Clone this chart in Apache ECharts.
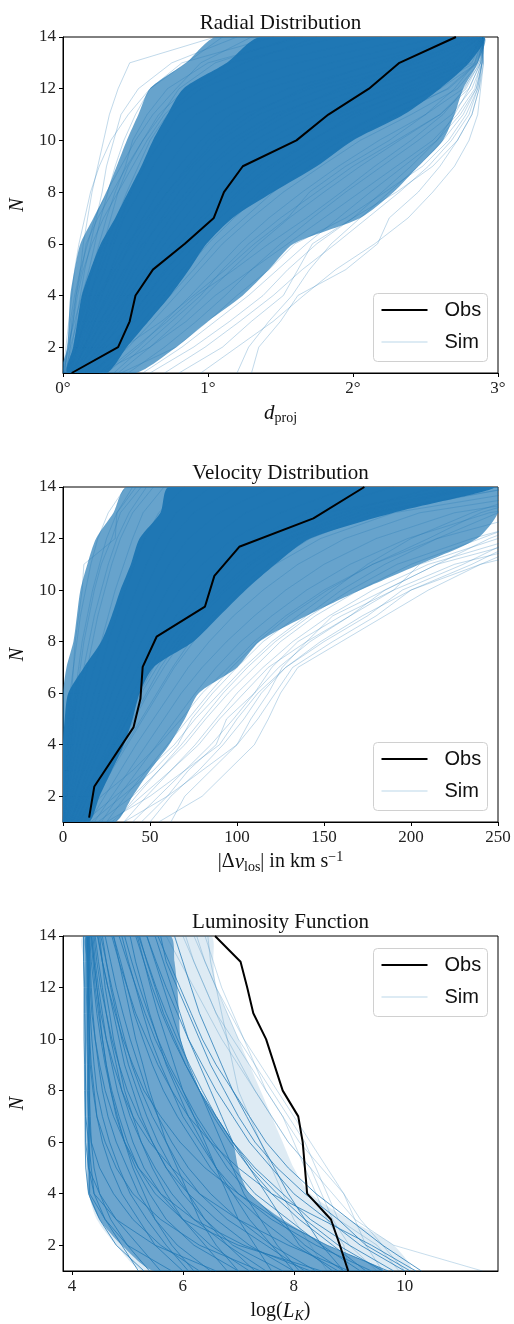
<!DOCTYPE html>
<html><head><meta charset="utf-8">
<script src="https://cdn.jsdelivr.net/npm/echarts@6/dist/echarts.min.js"></script>
<style>html,body{margin:0;padding:0;background:#fff}#c{width:514px;height:1324px}</style>
</head><body><div id="c"></div>
<script>
// ---------- data ----------
const nValues = [1,2,3,4,5,6,7,8,9,10,11,12,13,14];
const yTicks = [2,4,6,8,10,12,14];
const radialTicks = [0,1,2,3];
const velocityTicks = [0,50,100,150,200,250];
const lumTicks = [4,6,8,10];

// observed
const obsRadialX = [0.06,0.38,0.46,0.50,0.62,0.84,1.04,1.11,1.24,1.61,1.83,2.11,2.32,2.71];
const obsVelX = [15,18,40.5,44.5,45.8,53.8,81.6,87,101.3,143.9,173.2];
const obsVelN = [1.17,2.38,4.67,5.78,7.02,8.19,9.36,10.55,11.68,12.78,14.0];
const obsLumX = [8.98,8.83,8.67,8.24,8.20,8.16,8.08,7.80,7.65,7.50,7.27,7.16,7.04,6.58];

// densest envelopes of the simulated curves (x value at each N = 1..14)
const radialCoreL = [0.03,0.07,0.10,0.13,0.19,0.26,0.36,0.45,0.54,0.62,0.72,0.83,1.13,1.36];
const radialCoreR = [0.30,0.44,0.59,0.74,0.87,0.99,1.17,1.45,1.75,2.00,2.35,2.60,2.80,2.90];
const radialHaloL = [0.00,0.03,0.04,0.05,0.08,0.12,0.21,0.30,0.37,0.44,0.52,0.60,0.85,1.06];
const radialHaloR = [0.50,0.78,1.00,1.24,1.42,1.59,2.05,2.28,2.45,2.62,2.70,2.76,2.86,2.90];

const velCoreL = [0,0,0,0,1,3,12,22,28,33,39,44,56,61];
const velCoreR = [15,21,28,35,40,44,52,75,90,105,122,142,190,247];
const velHaloL = [0,0,0,0,0,0,2,6,8,10,14,19,29,37];
const velHaloR = [30,40,50,61,70,78,100,113,140,171,205,238,250,250];

const lumCoreL = [5.5,4.9,4.5,4.3,4.28,4.27,4.27,4.27,4.27,4.27,4.27,4.27,4.27,4.27];
const lumCoreR = [9.6,8.6,7.8,7.2,7.0,6.9,6.6,6.3,6.1,5.96,5.93,5.9,5.85,5.77];
const lumHaloL = [5.3,4.8,4.45,4.3,4.25,4.24,4.22,4.22,4.21,4.21,4.21,4.21,4.21,4.21];
const lumHaloR = [10.1,9.8,9.0,8.3,8.0,7.8,7.6,7.4,7.2,7.0,6.8,6.6,6.55,6.5];

// individual simulated curves (x value at N = 1..14)
const simRadial = [
 [0.01,0.04,0.07,0.09,0.12,0.14,0.17,0.20,0.24,0.28,0.32,0.38,0.46,1.05],
 [0.02,0.06,0.09,0.12,0.15,0.19,0.23,0.27,0.30,0.35,0.40,0.52,0.75,1.20],
 [0.01,0.03,0.08,0.13,0.18,0.22,0.26,0.31,0.36,0.42,0.50,0.60,0.82,1.45],
 [0.03,0.07,0.11,0.16,0.20,0.25,0.30,0.36,0.43,0.48,0.58,0.72,1.00,1.65],
 [0.02,0.05,0.10,0.14,0.21,0.28,0.33,0.38,0.45,0.55,0.66,0.85,1.15,1.90],
 [0.04,0.09,0.15,0.19,0.24,0.30,0.37,0.44,0.52,0.60,0.72,0.95,1.40,2.20],
 [0.01,0.08,0.12,0.18,0.26,0.33,0.40,0.47,0.56,0.68,0.80,1.10,1.62,2.45],
 [0.05,0.10,0.14,0.22,0.29,0.35,0.42,0.53,0.62,0.74,0.92,1.25,1.85,2.60],
 [0.03,0.12,0.20,0.27,0.33,0.40,0.50,0.60,0.72,0.85,1.05,1.40,2.00,2.80],
 [0.06,0.15,0.22,0.30,0.38,0.46,0.55,0.66,0.80,0.95,1.15,1.55,2.20,2.86],
 [0.02,0.10,0.18,0.25,0.36,0.48,0.60,0.72,0.86,1.00,1.25,1.70,2.35,2.88],
 [0.08,0.18,0.26,0.35,0.44,0.52,0.63,0.76,0.90,1.08,1.35,1.80,2.45,2.89],
 [0.04,0.14,0.25,0.38,0.47,0.57,0.68,0.80,0.95,1.15,1.45,1.95,2.55,2.90],
 [0.10,0.20,0.30,0.40,0.50,0.62,0.74,0.88,1.02,1.25,1.55,2.05,2.62,2.88],
 [0.05,0.16,0.28,0.42,0.55,0.66,0.78,0.92,1.10,1.32,1.65,2.15,2.70,2.90],
 [0.12,0.24,0.35,0.46,0.58,0.70,0.84,0.98,1.16,1.40,1.75,2.25,2.75,2.89],
 [0.07,0.22,0.38,0.50,0.62,0.75,0.90,1.05,1.24,1.48,1.85,2.35,2.78,2.90],
 [0.15,0.28,0.40,0.54,0.66,0.80,0.95,1.12,1.32,1.58,1.95,2.45,2.82,2.90],
 [0.09,0.26,0.44,0.58,0.72,0.86,1.02,1.20,1.42,1.70,2.05,2.52,2.84,2.89],
 [0.18,0.33,0.48,0.62,0.76,0.92,1.08,1.28,1.52,1.82,2.18,2.60,2.86,2.90],
 [0.20,0.38,0.55,0.70,0.85,1.00,1.18,1.38,1.62,1.92,2.28,2.66,2.86,2.90],
 [0.25,0.45,0.62,0.78,0.94,1.10,1.30,1.52,1.78,2.05,2.40,2.72,2.87,2.90],
 [0.30,0.52,0.70,0.88,1.05,1.22,1.42,1.65,1.90,2.18,2.50,2.76,2.88,2.90],
 [0.38,0.60,0.80,0.98,1.16,1.35,1.56,1.80,2.05,2.32,2.60,2.80,2.88,2.90],
 [0.45,0.70,0.92,1.12,1.30,1.50,1.72,1.95,2.20,2.45,2.68,2.82,2.89,2.90],
 [0.55,0.82,1.05,1.28,1.48,1.68,1.90,2.12,2.35,2.58,2.74,2.85,2.89,2.90],
 [0.70,0.98,1.22,1.45,1.65,1.88,2.10,2.32,2.52,2.68,2.80,2.86,2.89,2.90],
 [0.95,1.20,1.45,1.66,1.88,2.15,2.38,2.55,2.70,2.80,2.86,2.88,2.90,2.90],
 [1.30,1.35,1.50,1.62,1.95,2.17,2.25,2.45,2.60,2.72,2.82,2.87,2.89,2.90],
 [0.10,0.30,0.50,0.66,0.82,0.98,1.15,1.35,1.58,1.85,2.20,2.58,2.80,2.88],
 [0.15,0.35,0.45,0.58,0.70,0.88,1.05,1.22,1.45,1.72,2.00,2.40,2.78,2.90],
 [0.05,0.20,0.32,0.45,0.60,0.80,0.98,1.16,1.36,1.60,1.90,2.30,2.65,2.88],
 [0.08,0.14,0.22,0.32,0.42,0.55,0.70,0.85,1.00,1.20,1.50,1.90,2.40,2.85],
 [0.03,0.09,0.16,0.24,0.34,0.44,0.58,0.72,0.88,1.05,1.30,1.65,2.15,2.75],
 [0.22,0.40,0.58,0.74,0.90,1.05,1.25,1.45,1.70,1.98,2.30,2.65,2.85,2.90],
 [0.25,0.60,0.85,1.05,1.30,1.55,1.80,2.05,2.30,2.55,2.72,2.84,2.88,2.90],
 [0.40,0.78,1.00,1.20,1.42,1.60,1.95,2.22,2.48,2.66,2.78,2.86,2.89,2.90],
 [0.60,0.90,1.15,1.38,1.55,1.75,2.00,2.30,2.55,2.72,2.82,2.87,2.90,2.90],
 [0.35,0.55,0.75,0.95,1.10,1.28,1.50,1.75,2.00,2.30,2.60,2.78,2.87,2.90],
 [1.20,1.28,1.42,1.58,1.70,1.85,2.05,2.25,2.45,2.62,2.76,2.85,2.89,2.90],
 [0.80,1.10,1.30,1.52,1.62,1.72,2.00,2.20,2.40,2.58,2.70,2.80,2.88,2.90],
 [0.18,0.42,0.68,0.90,1.12,1.32,1.55,1.70,1.95,2.25,2.50,2.70,2.84,2.90],
 [0.28,0.50,0.72,0.92,1.18,1.42,1.68,1.92,2.15,2.40,2.62,2.77,2.86,2.90],
 [0.00,0.02,0.04,0.06,0.08,0.11,0.15,0.19,0.25,0.33,0.45,0.60,0.85,1.10],
 [0.01,0.03,0.05,0.08,0.12,0.17,0.22,0.30,0.40,0.50,0.62,0.78,0.95,1.30],
 [0.00,0.04,0.07,0.10,0.14,0.20,0.28,0.38,0.48,0.58,0.70,0.90,1.25,1.75],
 [0.02,0.05,0.06,0.09,0.13,0.16,0.24,0.34,0.44,0.55,0.68,0.80,1.05,1.60]
];

const simVelocity = [
 [0,1,2,3,4,5,6,7,9,11,12,30,31,40],
 [0,2,3,5,6,8,10,12,15,18,22,28,33,45],
 [1,2,4,6,8,11,14,17,20,24,28,33,40,52],
 [0,3,5,8,11,14,18,22,26,30,35,40,46,58],
 [2,4,7,10,14,18,22,26,31,36,41,47,55,70],
 [1,5,9,13,17,21,26,31,36,42,48,55,65,85],
 [3,7,11,15,20,25,30,35,41,47,54,62,75,100],
 [2,6,12,18,23,28,34,40,46,53,61,72,90,120],
 [5,9,14,20,26,32,38,45,52,60,70,85,105,140],
 [4,10,16,22,29,36,43,50,58,67,80,98,125,165],
 [6,12,19,26,33,40,48,56,65,76,90,110,140,190],
 [8,14,22,30,37,44,52,61,72,85,100,122,160,215],
 [3,11,20,28,35,43,50,58,68,80,95,118,150,230],
 [10,17,25,33,41,49,58,68,80,94,112,135,175,260],
 [7,15,24,32,40,48,56,66,78,92,108,130,170,240],
 [12,20,28,37,46,55,64,75,88,103,122,148,190,280],
 [5,13,21,29,37,45,54,64,76,90,106,128,165,235],
 [9,18,27,36,45,54,63,73,86,100,118,142,180,260],
 [15,24,33,42,52,62,72,84,98,115,135,162,205,300],
 [18,28,38,48,58,68,80,94,110,128,150,180,225,320],
 [22,32,43,54,65,76,88,102,120,140,165,198,245,340],
 [25,36,48,60,72,84,97,112,130,152,178,215,270,360],
 [30,42,55,68,80,92,106,122,142,165,192,235,290,380],
 [35,48,62,76,88,100,115,132,153,178,210,260,320,400],
 [40,55,70,85,98,110,124,142,165,190,225,285,350,420],
 [50,62,78,92,104,114,128,148,172,200,240,300,370,440],
 [62,70,85,100,108,118,126,140,155,185,215,270,330,400],
 [45,60,72,88,94,110,120,135,160,190,205,250,310,380],
 [20,40,55,70,82,95,110,125,145,170,200,240,280,330],
 [25,50,70,90,100,112,128,150,175,195,230,260,300,350],
 [12,30,48,64,76,90,104,120,140,160,185,215,250,300],
 [35,60,80,100,112,122,132,155,180,200,235,265,310,360],
 [55,80,95,110,118,125,135,160,185,210,240,275,320,380],
 [8,22,40,55,68,80,95,110,128,150,178,210,240,290],
 [28,45,62,78,90,104,118,140,165,185,215,245,285,330],
 [16,34,52,66,74,86,100,115,135,155,175,200,235,280],
 [0,1,1,2,3,4,6,8,10,13,16,20,26,36],
 [0,0,2,3,5,7,9,11,14,17,21,25,31,42],
 [1,2,3,4,6,9,12,15,18,22,26,31,38,48]
];

const simLuminosity = [
 [5.2,4.9,4.6,4.4,4.35,4.3,4.3,4.28,4.28,4.27,4.27,4.26,4.26,4.26],
 [5.6,5.2,4.8,4.4,4.3,4.3,4.25,4.25,4.24,4.24,4.23,4.23,4.22,4.22],
 [6.0,5.5,5.2,4.9,4.7,4.55,4.45,4.4,4.35,4.32,4.3,4.3,4.29,4.28],
 [6.5,5.9,5.5,5.2,5.0,4.8,4.65,4.55,4.48,4.42,4.38,4.35,4.33,4.3],
 [7.0,6.2,5.7,5.4,5.15,4.95,4.8,4.7,4.62,4.55,4.5,4.45,4.4,4.36],
 [7.5,6.8,6.2,5.8,5.5,5.25,5.05,4.9,4.8,4.7,4.62,4.55,4.48,4.42],
 [8.0,7.2,6.6,6.1,5.7,5.45,5.25,5.1,4.95,4.85,4.75,4.65,4.55,4.47],
 [8.4,7.6,7.0,6.5,6.1,5.8,5.55,5.35,5.2,5.05,4.92,4.8,4.7,4.6],
 [8.8,8.0,7.4,6.9,6.5,6.2,5.9,5.65,5.45,5.28,5.12,5.0,4.88,4.75],
 [9.2,8.5,7.9,7.3,6.9,6.55,6.25,6.0,5.75,5.55,5.38,5.22,5.08,4.95],
 [9.6,8.8,8.2,7.7,7.25,6.9,6.6,6.3,6.05,5.82,5.62,5.45,5.3,5.15],
 [10.0,9.2,8.6,8.0,7.6,7.2,6.9,6.6,6.35,6.1,5.9,5.7,5.52,5.35],
 [10.3,9.6,9.0,8.4,7.9,7.5,7.2,6.9,6.6,6.35,6.15,5.95,5.75,5.55],
 [5.8,5.0,4.6,4.32,4.32,4.32,4.32,4.32,4.32,4.32,4.32,4.32,4.32,4.32],
 [6.6,5.5,4.8,4.5,4.3,4.25,4.25,4.25,4.25,4.25,4.25,4.25,4.25,4.25],
 [7.2,6.5,6.0,5.6,5.3,5.1,4.95,4.82,4.72,4.62,4.55,4.48,4.42,4.38],
 [7.8,6.9,6.4,6.0,5.7,5.45,5.2,5.0,4.85,4.72,4.62,4.52,4.45,4.4],
 [8.2,7.5,6.8,6.3,5.95,5.7,5.45,5.25,5.08,4.95,4.83,4.72,4.62,4.52],
 [9.4,8.4,7.6,7.0,6.6,6.3,6.0,5.8,5.6,5.42,5.28,5.15,5.02,4.9],
 [8.9,8.2,7.7,7.2,6.8,6.5,6.2,5.95,5.72,5.5,5.32,5.16,5.0,4.85],
 [7.0,6.6,6.3,6.1,5.9,5.7,5.55,5.4,5.28,5.15,5.05,4.95,4.85,4.75],
 [6.2,5.8,5.5,5.3,5.1,4.95,4.82,4.7,4.6,4.52,4.45,4.4,4.35,4.32],
 [9.8,9.0,8.3,7.8,7.3,6.9,6.6,6.35,6.12,5.9,5.7,5.52,5.36,5.2],
 [8.7,8.1,7.8,7.5,7.2,6.9,6.7,6.5,6.3,6.1,5.95,5.8,5.65,5.5],
 [10.1,9.3,8.8,8.2,7.7,7.3,7.0,6.75,6.5,6.3,6.1,5.9,5.7,5.6],
 [8.1,7.7,7.4,7.1,6.9,6.7,6.5,6.3,6.1,5.95,5.8,5.65,5.5,5.35],
 [7.6,7.3,7.0,6.8,6.6,6.4,6.2,6.0,5.85,5.7,5.55,5.42,5.3,5.18],
 [6.8,6.4,6.0,5.7,5.45,5.25,5.1,4.95,4.85,4.75,4.68,4.6,4.55,4.5],
 [5.4,5.0,4.7,4.5,4.4,4.35,4.33,4.31,4.3,4.29,4.28,4.28,4.27,4.27],
 [8.5,7.0,6.0,5.5,5.2,5.0,4.85,4.72,4.62,4.55,4.48,4.42,4.38,4.34],
 [5.3,4.8,4.5,4.3,4.25,4.24,4.24,4.23,4.23,4.22,4.22,4.22,4.21,4.21],
 [6.3,5.6,5.1,4.75,4.5,4.35,4.3,4.3,4.3,4.29,4.29,4.28,4.28,4.28],
 [7.4,6.3,5.6,5.1,4.8,4.6,4.45,4.38,4.33,4.31,4.3,4.3,4.3,4.3],
 [8.3,7.1,6.2,5.6,5.2,4.95,4.75,4.6,4.5,4.42,4.36,4.33,4.31,4.3],
 [9.0,7.9,7.0,6.3,5.8,5.4,5.1,4.9,4.75,4.62,4.52,4.45,4.4,4.35],
 [9.7,8.6,7.7,7.0,6.4,5.95,5.6,5.3,5.1,4.92,4.78,4.65,4.55,4.46],
 [10.2,9.4,8.5,7.6,7.0,6.5,6.1,5.8,5.55,5.35,5.15,5.0,4.85,4.72],
 [8.0,7.6,7.2,6.9,6.6,6.35,6.1,5.9,5.7,5.55,5.4,5.28,5.15,5.05],
 [9.3,8.7,8.1,7.6,7.2,6.85,6.55,6.3,6.05,5.85,5.65,5.5,5.35,5.22],
 [7.3,6.8,6.4,6.1,5.8,5.55,5.35,5.18,5.02,4.9,4.8,4.7,4.62,4.55],
 [6.1,5.7,5.35,5.05,4.85,4.68,4.55,4.45,4.4,4.36,4.33,4.3,4.29,4.28],
 [8.9,8.5,8.2,7.9,7.65,7.4,7.15,6.9,6.7,6.5,6.3,6.15,6.0,5.85]
];
const simLuminosityFaint = [
 [11.4,9.8,9.1,8.7,8.3,7.9,7.6,7.3,7.0,6.7,6.45,6.2,5.95,5.7],
 [9.0,8.9,8.6,8.4,8.2,8.0,7.8,7.5,7.2,6.9,6.6,6.4,6.2,6.0],
 [8.6,8.3,8.0,7.8,7.6,7.4,7.2,7.0,6.9,6.8,6.7,6.6,6.5,6.45],
 [9.5,9.0,8.7,8.5,8.3,7.9,7.6,7.3,7.05,6.8,6.6,6.4,6.2,6.05],
 [9.9,9.5,8.8,8.6,8.4,8.2,7.9,7.6,7.3,7.0,6.8,6.6,6.4,6.2],
 [10.0,9.6,9.2,8.9,8.6,8.3,8.0,7.7,7.4,7.1,6.85,6.6,6.4,6.25],
 [9.6,9.3,9.1,8.9,8.5,8.1,7.8,7.5,7.3,7.1,6.9,6.7,6.55,6.4]
];

// ---------- chart ----------
const BLUE = '#1f77b4';
const SERIF = 'Liberation Serif';
const SANS = 'Liberation Sans';
const grids = [
  {left:63, top:37, width:435, height:336},
  {left:63, top:487, width:435, height:335},
  {left:63, top:936, width:435, height:335}
];

function band(gi, left, right, opacity, z){
  return {type:'custom', xAxisIndex:gi, yAxisIndex:gi, silent:true, animation:false, clip:true, z:z,
    data:[[left[0], nValues[0]]],
    renderItem:function(params, api){
      const pts = [];
      for (let i=0;i<nValues.length;i++) pts.push(api.coord([left[i], nValues[i]]));
      for (let i=nValues.length-1;i>=0;i--) pts.push(api.coord([right[i], nValues[i]]));
      return {type:'polygon', shape:{points:pts, smooth:0.25}, style:{fill:BLUE, opacity:opacity}};
    }};
}
function sims(lines, gi, opacity){
  return lines.map(xs => ({type:'line', xAxisIndex:gi, yAxisIndex:gi, silent:true, animation:false,
    symbol:'none', showSymbol:false, z:3, clip:true,
    lineStyle:{color:BLUE, width:1, opacity:opacity},
    data: xs.map((x,i)=>[x, nValues[i]])}));
}
function obs(gi, xs, ns){
  return {type:'line', xAxisIndex:gi, yAxisIndex:gi, silent:true, animation:false,
    symbol:'none', showSymbol:false, z:6, clip:true,
    lineStyle:{color:'#000', width:2},
    data: xs.map((x,i)=>[x, ns[i]])};
}

const axisCommon = {
  axisLine:{show:true, onZero:false, lineStyle:{color:'#000', width:1}},
  axisTick:{show:true, inside:false, length:4, lineStyle:{color:'#000', width:1}},
  splitLine:{show:false},
  axisLabel:{color:'#222', fontFamily:SERIF, fontSize:17, margin:7}
};
function yAxis(gi){
  return Object.assign({}, axisCommon, {type:'value', gridIndex:gi, min:1, max:14,
    axisTick:Object.assign({}, axisCommon.axisTick, {customValues:yTicks}),
    axisLabel:Object.assign({}, axisCommon.axisLabel, {customValues:yTicks}),
    name:'N', nameLocation:'middle', nameGap:34, nameRotate:90,
    nameTextStyle:{fontFamily:SERIF, fontStyle:'italic', fontSize:20, color:'#111'}});
}
const richBase = {
  r:{fontFamily:SERIF, fontSize:20, lineHeight:24, color:'#111'},
  i:{fontFamily:SERIF, fontStyle:'italic', fontSize:21, lineHeight:24, color:'#111'},
  s:{fontFamily:SERIF, fontSize:14, lineHeight:12, verticalAlign:'bottom', color:'#111'},
  si:{fontFamily:SERIF, fontStyle:'italic', fontSize:14, lineHeight:12, verticalAlign:'bottom', color:'#111'},
  u:{fontFamily:SERIF, fontSize:14, lineHeight:12, verticalAlign:'top', color:'#111'}
};

const xAxes = [
  Object.assign({}, axisCommon, {type:'value', gridIndex:0, min:0, max:3, interval:1,
    axisLabel:Object.assign({}, axisCommon.axisLabel, {formatter:v=>v+'°', customValues:radialTicks}),
    name:'{i|d}{s|proj}', nameLocation:'middle', nameGap:28, nameTextStyle:{rich:richBase}}),
  Object.assign({}, axisCommon, {type:'value', gridIndex:1, min:0, max:250, interval:50,
    axisLabel:Object.assign({}, axisCommon.axisLabel, {customValues:velocityTicks}),
    name:'{r||Δ}{i|v}{s|los}{r|| in km s}{u|−1}', nameLocation:'middle', nameGap:28, nameTextStyle:{rich:richBase}}),
  Object.assign({}, axisCommon, {type:'value', gridIndex:2, min:3.84, max:11.68,
    axisTick:Object.assign({}, axisCommon.axisTick, {customValues:lumTicks}),
    axisLabel:Object.assign({}, axisCommon.axisLabel, {customValues:lumTicks}),
    name:'{r|log(}{i|L}{si|K}{r|)}', nameLocation:'middle', nameGap:28, nameTextStyle:{rich:richBase}})
];

function legend(top){
  return {type:'group', left:373, top:top, z:100, children:[
    {type:'rect', shape:{x:0, y:0, width:114, height:68, r:4}, style:{fill:'rgba(255,255,255,0.85)', stroke:'#d0d0d0', lineWidth:1}},
    {type:'line', shape:{x1:8, y1:16.5, x2:54, y2:16.5}, style:{stroke:'#000', lineWidth:2}},
    {type:'line', shape:{x1:8, y1:48.5, x2:54, y2:48.5}, style:{stroke:BLUE, lineWidth:1, opacity:0.3}},
    {type:'text', x:71, y:17, style:{text:'Obs', font:'20px "'+SANS+'"', fill:'#111', textVerticalAlign:'middle'}},
    {type:'text', x:71, y:49, style:{text:'Sim', font:'20px "'+SANS+'"', fill:'#111', textVerticalAlign:'middle'}}
  ]};
}
function title(text, y){
  return {type:'text', x:280.5, y:y, z:100, style:{text:text, font:'21px "'+SERIF+'"', fill:'#111', textAlign:'center', textVerticalAlign:'middle'}};
}

const series = [].concat(
  [band(0, radialHaloL, radialHaloR, 0.68, 1), band(0, radialCoreL, radialCoreR, 1, 2)],
  sims(simRadial, 0, 0.28),
  [obs(0, obsRadialX, nValues)],
  [band(1, velHaloL, velHaloR, 0.68, 1), band(1, velCoreL, velCoreR, 1, 2)],
  sims(simVelocity, 1, 0.28),
  [obs(1, obsVelX, obsVelN)],
  [band(2, lumHaloL, lumHaloR, 0.15, 1), band(2, lumCoreL, lumCoreR, 0.6, 2)],
  sims(simLuminosity, 2, 0.75),
  sims(simLuminosityFaint, 2, 0.25),
  [obs(2, obsLumX, nValues)]
);

const chart = echarts.init(document.getElementById('c'), null, {renderer:'canvas'});
chart.setOption({
  animation:false,
  backgroundColor:'#fff',
  grid: grids.map(g => Object.assign({show:true, borderColor:'#000', borderWidth:1, containLabel:false}, g)),
  xAxis: xAxes,
  yAxis: [yAxis(0), yAxis(1), yAxis(2)],
  series: series,
  graphic: [
    title('Radial Distribution', 23), title('Velocity Distribution', 473), title('Luminosity Function', 922.5),
    legend(293), legend(742), legend(948)
  ]
});
</script></body></html>
